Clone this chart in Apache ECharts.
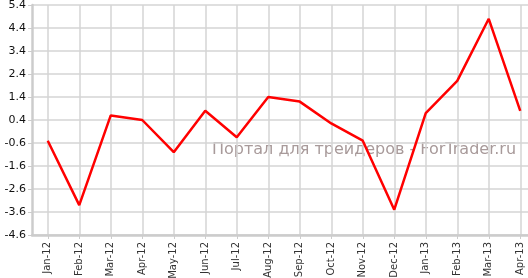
<!DOCTYPE html>
<html><head><meta charset="utf-8">
<script src="https://cdn.jsdelivr.net/npm/echarts@6/dist/echarts.min.js"></script>
<style>html,body{margin:0;padding:0;background:#fff}#c{width:528px;height:278px}</style>
</head><body><div id="c"></div>
<script>
var categories = ["Jan-12","Feb-12","Mar-12","Apr-12","May-12","Jun-12","Jul-12","Aug-12","Sep-12","Oct-12","Nov-12","Dec-12","Jan-13","Feb-13","Mar-13","Apr-13"];
var values = [-0.5,-3.3,0.6,0.4,-1.0,0.8,-0.35,1.4,1.2,0.25,-0.5,-3.5,0.7,2.1,4.8,0.8];
var watermark = "Портал для трейдеров - ForTrader.ru";

var chart = echarts.init(document.getElementById('c'), null, {renderer:'canvas'});
chart.setOption({
  animation:false,
  backgroundColor:'#fff',
  grid:{left:32, top:5, width:504, height:230, containLabel:false, outerBoundsMode:'none'},
  xAxis:{
    type:'category', data:categories, boundaryGap:true,
    axisLine:{show:true, onZero:false, lineStyle:{color:'#cccccc', width:2.5}},
    axisTick:{show:true, alignWithLabel:true, length:4, lineStyle:{color:'#cccccc'}},
    splitLine:{show:true, alignWithLabel:true, lineStyle:{color:'#d4d4d4', width:1.5}},
    axisLabel:{rotate:90, interval:0, margin:7, fontFamily:'DejaVu Sans', fontSize:10, color:'#333'}
  },
  yAxis:{
    type:'value', min:-4.6, max:5.4, interval:1,
    axisLine:{show:true, lineStyle:{color:'#cccccc', width:2.5}},
    axisTick:{show:true, length:4, lineStyle:{color:'#cccccc'}},
    splitLine:{show:true, lineStyle:{color:'#d4d4d4', width:1.5}},
    axisLabel:{margin:6, fontFamily:'DejaVu Sans', fontSize:11, color:'#111'}
  },
  graphic:[{type:'text', left:212, top:142, z:0, silent:true,
    style:{text:watermark, fontFamily:'DejaVu Sans', fontSize:16, fill:'#a89a9a'}}],
  series:[{type:'line', data:values, symbol:'none', z:5,
    lineStyle:{color:'#ff0000', width:2.5}}]
});
</script></body></html>
